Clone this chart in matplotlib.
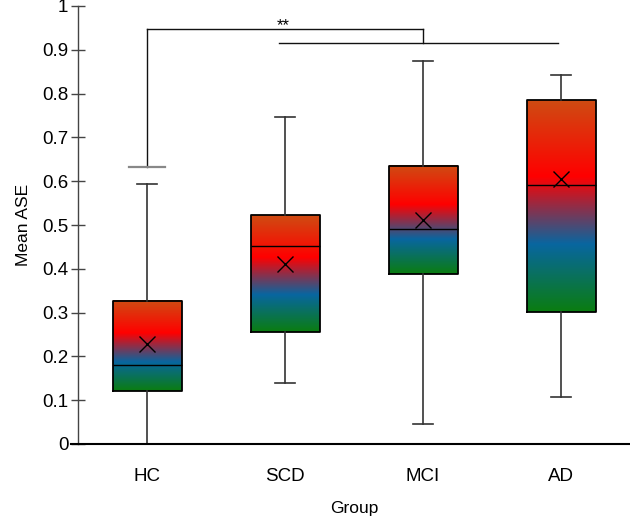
import numpy as np
import matplotlib.pyplot as plt
from matplotlib.colors import LinearSegmentedColormap

plt.rcParams['font.family'] = ['Liberation Sans', 'DejaVu Sans']

groups = ['HC', 'SCD', 'MCI', 'AD']
whislo = [0.0, 0.14, 0.046, 0.108]
q1 = [0.121, 0.256, 0.388, 0.301]
med = [0.181, 0.452, 0.492, 0.591]
q3 = [0.327, 0.523, 0.635, 0.785]
whishi = [0.594, 0.747, 0.874, 0.842]
means = [0.229, 0.411, 0.511, 0.605]
yticks = [0, 0.1, 0.2, 0.3, 0.4, 0.5, 0.6, 0.7, 0.8, 0.9, 1]
ytick_labels = ['0', '0.1', '0.2', '0.3', '0.4', '0.5', '0.6', '0.7', '0.8', '0.9', '1']

# gradient used inside each box (bottom -> top)
grad = LinearSegmentedColormap.from_list('box', [
    (0.0, '#0b7d10'),
    (0.32, '#0866a0'),
    (0.64, '#ff0000'),
    (1.0, '#cf4c12'),
])

fig = plt.figure(figsize=(6.3, 5.24), dpi=100)
ax = fig.add_axes([78 / 630, 1 - 444 / 524, 1 - 78 / 630, (444 - 6) / 524])

stats = []
for i, g in enumerate(groups):
    stats.append(dict(label=g, whislo=whislo[i], q1=q1[i], med=med[i],
                      q3=q3[i], whishi=whishi[i], mean=means[i], fliers=[]))

pos = np.arange(len(groups))
width = 0.5
bp = ax.bxp(stats, positions=pos, widths=width, showmeans=True,
            boxprops=dict(color='black', linewidth=1.3),
            medianprops=dict(color='black', linewidth=1.0),
            whiskerprops=dict(color='#333333', linewidth=1.2),
            capprops=dict(color='#333333', linewidth=1.2),
            capwidths=0.15,
            meanprops=dict(marker='x', markeredgecolor='black',
                           markersize=11, markeredgewidth=1.0),
            zorder=3)

ramp = np.linspace(0, 1, 256).reshape(-1, 1)
for i in range(len(groups)):
    ax.imshow(ramp, cmap=grad, origin='lower', aspect='auto',
              extent=[pos[i] - width / 2, pos[i] + width / 2, q1[i], q3[i]],
              zorder=2, interpolation='bilinear')

# significance bracket
lc = '#111111'
ax.plot([0, 0], [0.632, 0.947], color=lc, lw=1.0)
ax.plot([-0.13, 0.13], [0.632, 0.632], color='#888888', lw=1.6)
ax.plot([0, 2], [0.947, 0.947], color=lc, lw=1.0)
ax.plot([2, 2], [0.947, 0.916], color=lc, lw=1.0)
ax.plot([0.96, 2.98], [0.916, 0.916], color=lc, lw=1.0)
ax.text(0.99, 0.937, '**', ha='center', va='bottom', fontsize=12)

ax.set_xlim(-0.5, 3.5)
ax.set_ylim(0, 1)
ax.set_xticks(pos)
ax.set_xticklabels(groups, fontsize=13.5)
ax.set_yticks(yticks)
ax.set_yticklabels(ytick_labels, fontsize=13.5)
ax.tick_params(axis='x', length=0, pad=17)
ax.tick_params(axis='y', direction='inout', length=10, width=1.0,
               color='#444444', pad=2)
ax.set_xlabel('Group', fontsize=12.5, labelpad=12)
ax.set_ylabel('Mean ASE', fontsize=12.5, labelpad=8)

for s in ['top', 'right', 'bottom']:
    ax.spines[s].set_visible(False)
ax.spines['left'].set_color('#444444')
ax.spines['left'].set_linewidth(1.0)
ax.plot([-0.55, 3.5], [0, 0], color='black', lw=1.5, clip_on=False, zorder=4)

fig.savefig('out.png', dpi=100)
